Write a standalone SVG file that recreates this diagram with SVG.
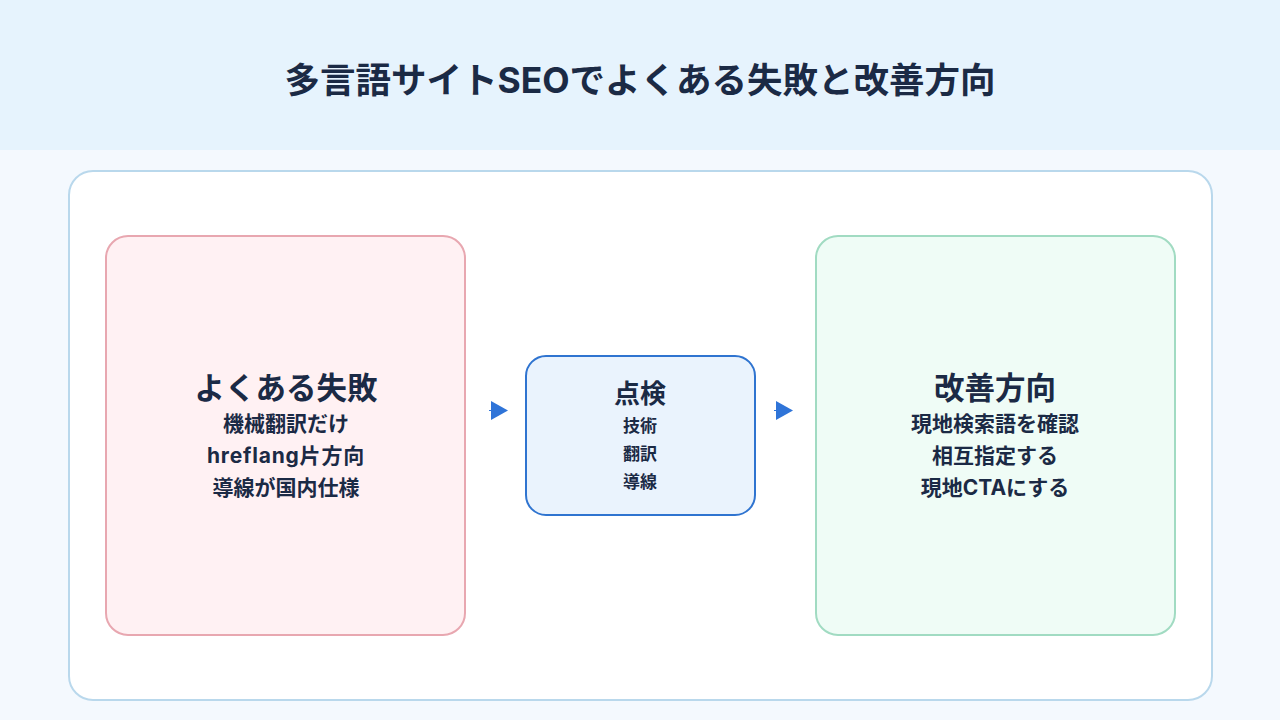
<svg xmlns="http://www.w3.org/2000/svg" width="1280" height="720" viewBox="0 0 1280 720">
<defs>
<style>
text{font-family:Inter,"Noto Sans CJK JP","Noto Sans",sans-serif;font-weight:700;fill:#1b2a45;text-anchor:middle;dominant-baseline:central}
.title{font-size:35.5px}
.h{font-size:30.5px}
.s{font-size:21px}
.mh{font-size:26px}
.ms{font-size:17px}
</style>
<marker id="arr" markerWidth="17" markerHeight="19" refX="0" refY="9.5" orient="auto" markerUnits="userSpaceOnUse">
<path d="M0,0 L17,9.5 L0,19 Z" fill="#2f74d8"/>
</marker>
</defs>
<rect x="0" y="0" width="1280" height="720" fill="#f4f9fe"/>
<rect x="0" y="0" width="1280" height="150" fill="#e6f3fd"/>
<text class="title" x="640" y="80">多言語サイトSEOでよくある失敗と改善方向</text>
<rect x="69" y="171" width="1143" height="529" rx="24" fill="#ffffff" stroke="#b9d8ec" stroke-width="2"/>
<g id="failures">
<rect x="106" y="236" width="359" height="399" rx="22" fill="#fff1f3" stroke="#e8a7b0" stroke-width="2"/>
<text class="h" x="286" y="387">よくある失敗</text>
<text class="s" x="286" y="423">機械翻訳だけ</text>
<text class="s" x="286" y="455" letter-spacing="0.8">hreflang片方向</text>
<text class="s" x="286" y="487">導線が国内仕様</text>
</g>
<g id="check">
<rect x="526" y="356" width="229" height="159" rx="20" fill="#eaf3fd" stroke="#2f74d0" stroke-width="2"/>
<text class="mh" x="640" y="393">点検</text>
<text class="ms" x="640" y="426">技術</text>
<text class="ms" x="640" y="454">翻訳</text>
<text class="ms" x="640" y="482">導線</text>
</g>
<g id="improve">
<rect x="816" y="236" width="359" height="399" rx="22" fill="#effcf6" stroke="#a1dbc2" stroke-width="2"/>
<text class="h" x="995" y="387">改善方向</text>
<text class="s" x="995" y="423">現地検索語を確認</text>
<text class="s" x="995" y="455">相互指定する</text>
<text class="s" x="995" y="487">現地CTAにする</text>
</g>
<g id="connectors">
<line x1="489" y1="410.5" x2="491" y2="410.5" stroke="#2f74d8" stroke-width="1" marker-end="url(#arr)"/>
<line x1="774" y1="410.5" x2="776" y2="410.5" stroke="#2f74d8" stroke-width="1" marker-end="url(#arr)"/>
</g>
</svg>
